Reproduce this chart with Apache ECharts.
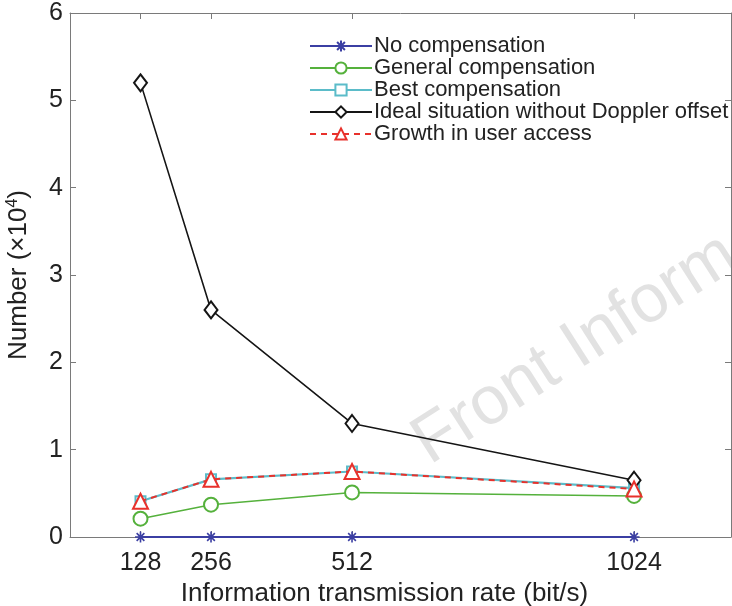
<!DOCTYPE html>
<html>
<head>
<meta charset="utf-8">
<script src="https://cdn.jsdelivr.net/npm/echarts@6/dist/echarts.min.js"></script>
<style>html,body{margin:0;padding:0;background:#fff;}#c{width:732px;height:606px;}</style>
</head>
<body>
<div id="c"></div>
<script>
var rates = [128, 256, 512, 1024];
var noComp = [0, 0, 0, 0];
var generalComp = [0.21, 0.37, 0.51, 0.47];
var bestComp = [0.41, 0.66, 0.75, 0.56];
var ideal = [5.2, 2.6, 1.3, 0.65];
var growth = [0.41, 0.66, 0.75, 0.55];
var yTicks = [0, 1, 2, 3, 4, 5, 6];
var seriesNames = ['No compensation', 'General compensation', 'Best compensation', 'Ideal situation without Doppler offset', 'Growth in user access'];

function pairs(vals) { return rates.map(function (r, i) { return [r, vals[i]]; }); }

var axisGray = '#7a7a7a';
var FONT = '"Liberation Sans", Arial, sans-serif';
var star = 'path://M0 5 L10 5 M5 0 L5 10 M1.5 1.5 L8.5 8.5 M1.5 8.5 L8.5 1.5';

var chart = echarts.init(document.getElementById('c'), null, {renderer: 'canvas'});
chart.setOption({
  animation: false,
  backgroundColor: '#fff',
  grid: {left: 70, top: 13, right: 1, bottom: 69, show: false, containLabel: false, outerBoundsMode: 'none'},
  legend: {
    orient: 'vertical',
    left: 304,
    top: 30,
    itemWidth: 62,
    itemHeight: 14,
    itemGap: 0,
    data: seriesNames,
    textStyle: {fontFamily: FONT, fontSize: 22, color: '#222', lineHeight: 22, padding: [0, 0, 0, -3]}
  },
  xAxis: [{
    type: 'value', min: 0, max: 1200, position: 'bottom',
    name: 'Information transmission rate (bit/s)', nameLocation: 'middle', nameGap: 40,
    nameTextStyle: {fontFamily: FONT, fontSize: 26, color: '#222', padding: [0, 32, 0, 0]},
    axisLine: {show: true, onZero: false, lineStyle: {color: axisGray, width: 1}},
    axisTick: {show: true, inside: true, length: 6, customValues: rates, lineStyle: {color: axisGray}},
    axisLabel: {customValues: rates, fontFamily: FONT, fontSize: 25, color: '#222', margin: 14,
      formatter: function (v) { return String(v); }},
    splitLine: {show: false}
  }, {
    type: 'value', min: 0, max: 1200, position: 'top',
    axisLine: {show: true, onZero: false, lineStyle: {color: axisGray, width: 1}},
    axisTick: {show: true, inside: true, length: 6, customValues: rates, lineStyle: {color: axisGray}},
    axisLabel: {show: false},
    splitLine: {show: false}
  }],
  yAxis: [{
    type: 'value', min: 0, max: 6, interval: 1, position: 'left',
    name: '{a|Number (×10}{s|4}{a|)}', nameLocation: 'middle', nameGap: 37, nameRotate: 90,
    nameTextStyle: {
      fontFamily: FONT, fontSize: 26, color: '#222',
      rich: {
        a: {fontFamily: FONT, fontSize: 26, color: '#222'},
        s: {fontFamily: FONT, fontSize: 16, color: '#222', verticalAlign: 'bottom', padding: [0, 0, 12, 0]}
      }
    },
    axisLine: {show: true, onZero: false, lineStyle: {color: axisGray, width: 1}},
    axisTick: {show: true, inside: true, length: 6, lineStyle: {color: axisGray}},
    axisLabel: {fontFamily: FONT, fontSize: 25, color: '#222', margin: 7,
      formatter: function (v) { return yTicks.indexOf(v) >= 0 ? String(v) : ''; }},
    splitLine: {show: false}
  }, {
    type: 'value', min: 0, max: 6, interval: 1, position: 'right',
    axisLine: {show: true, onZero: false, lineStyle: {color: axisGray, width: 1}},
    axisTick: {show: true, inside: true, length: 6, lineStyle: {color: axisGray}},
    axisLabel: {show: false},
    splitLine: {show: false}
  }],
  graphic: [{
    type: 'text', x: 438, y: 478, rotation: 0.57, z: 0, silent: true,
    style: {text: 'Front Inform', font: '68px "Liberation Sans", Arial, sans-serif', fill: '#e2e2e2', textAlign: 'left', textVerticalAlign: 'bottom'}
  }],
  series: [{
    name: seriesNames[0], type: 'line', data: pairs(noComp),
    symbol: star, symbolSize: 11,
    lineStyle: {color: '#3b3fa3', width: 2},
    itemStyle: {color: '#3b3fa3', borderColor: '#3b3fa3', borderWidth: 1.6},
    z: 3
  }, {
    name: seriesNames[1], type: 'line', data: pairs(generalComp),
    symbol: 'emptyCircle', symbolSize: 14,
    lineStyle: {color: '#55b13c', width: 1.6},
    itemStyle: {color: '#55b13c', borderWidth: 1.6},
    z: 3
  }, {
    name: seriesNames[2], type: 'line', data: pairs(bestComp),
    symbol: 'emptyRect', symbolSize: 10,
    lineStyle: {color: '#5bbcc9', width: 2.2},
    itemStyle: {color: '#5bbcc9', borderWidth: 1.6},
    z: 3
  }, {
    name: seriesNames[3], type: 'line', data: pairs(ideal),
    symbol: 'emptyDiamond', symbolSize: [13, 17],
    lineStyle: {color: '#151515', width: 1.6},
    itemStyle: {color: '#151515', borderWidth: 1.6},
    z: 4
  }, {
    name: seriesNames[4], type: 'line', data: pairs(growth),
    symbol: 'emptyTriangle', symbolSize: 15,
    lineStyle: {color: '#e8312b', width: 2, type: [6, 5]},
    itemStyle: {color: '#e8312b', borderWidth: 1.8},
    z: 5
  }]
});
</script>
</body>
</html>
